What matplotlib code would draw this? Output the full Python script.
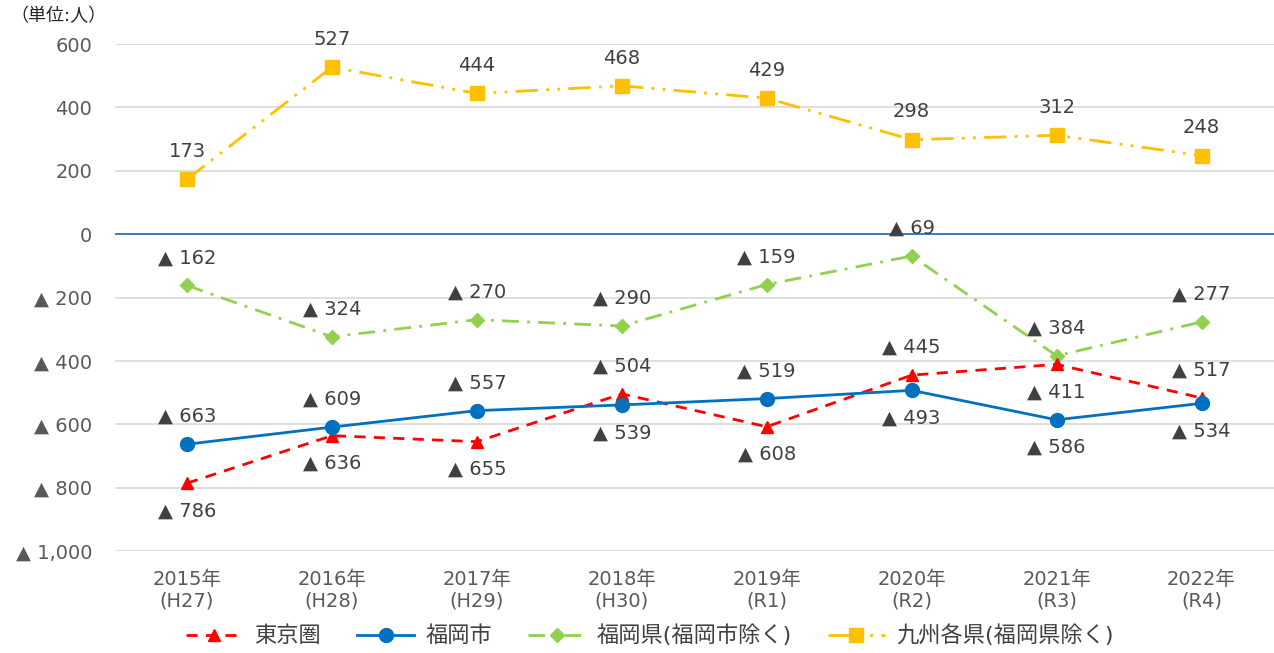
import numpy as np
import matplotlib
matplotlib.use("Agg")
import matplotlib.pyplot as plt

# DejaVu first for the wide digits, CJK falls back to Noto
plt.rcParams['font.family'] = ['DejaVu Sans', 'Noto Sans CJK JP']

years = ["2015年\n(H27)", "2016年\n(H28)", "2017年\n(H29)", "2018年\n(H30)",
         "2019年\n(R1)", "2020年\n(R2)", "2021年\n(R3)", "2022年\n(R4)"]

tokyo = [-786, -636, -655, -504, -608, -445, -411, -517]
fukuoka_city = [-663, -609, -557, -539, -519, -493, -586, -534]
fukuoka_pref = [-162, -324, -270, -290, -159, -69, -384, -277]
kyushu = [173, 527, 444, 468, 429, 298, 312, 248]

# label above (+1) or below (-1) each point
tokyo_pos = [-1, -1, -1, 1, -1, 1, -1, 1]
city_pos = [1, 1, 1, -1, 1, -1, -1, -1]

yticks = [600, 400, 200, 0, -200, -400, -600, -800, -1000]


def fmt(v):
    if v < 0:
        return "▲ {:,}".format(-v)
    return "{:,}".format(v)


fig = plt.figure(figsize=(12.74, 6.53), dpi=100)
ax = fig.add_axes([0.0899, 0.1562, 0.9101, 0.7764])
x = np.arange(len(years))

ax.plot(x, tokyo, color="#FF0000", linestyle=(0, (4, 3)), linewidth=2,
        marker="^", markersize=9, label="東京圏", zorder=4)
ax.plot(x, fukuoka_city, color="#0070C0", linewidth=2,
        marker="o", markersize=10, label="福岡市", zorder=5)
ax.plot(x, fukuoka_pref, color="#92D050", linestyle=(0, (6, 3, 1, 3)), linewidth=2,
        marker="D", markersize=7, label="福岡県(福岡市除く)", zorder=3)
ax.plot(x, kyushu, color="#FFC000", linestyle=(0, (8, 3, 1, 3, 1, 3)), linewidth=2,
        marker="s", markersize=10, label="九州各県(福岡県除く)", zorder=3)

lab = dict(ha="center", va="center", fontsize=14, color="#404040",
           textcoords="offset points", zorder=6)
for i in x:
    ax.annotate(fmt(kyushu[i]), (i, kyushu[i]), xytext=(0, 20), **lab)
    ax.annotate(fmt(fukuoka_pref[i]), (i, fukuoka_pref[i]), xytext=(0, 20), **lab)
    ax.annotate(fmt(tokyo[i]), (i, tokyo[i]), xytext=(0, 20 * tokyo_pos[i]), **lab)
    ax.annotate(fmt(fukuoka_city[i]), (i, fukuoka_city[i]), xytext=(0, 20 * city_pos[i]), **lab)

ax.set_xlim(-0.5, len(years) - 0.5)
ax.set_ylim(-1000, 600)
ax.set_yticks(yticks)
ax.set_yticklabels([fmt(v) for v in yticks])
ax.set_xticks(x)
ax.set_xticklabels(years, linespacing=1.15)
ax.tick_params(axis="both", length=0, labelsize=14, colors="#595959")
ax.tick_params(axis="x", pad=14)
ax.tick_params(axis="y", pad=16)

ax.grid(axis="y", color="#D9D9D9", linewidth=1.2)
ax.axhline(0, color="#2E75B6", linewidth=1.3, zorder=2)
for s in ax.spines.values():
    s.set_visible(False)
ax.set_axisbelow(True)

fig.text(0.008, 0.975, "（単位:人）", fontsize=13, color="#262626", va="center")

fig.legend(loc="center", bbox_to_anchor=(0.51, 0.027), ncol=4, frameon=False,
           fontsize=16, handlelength=2.6, handletextpad=0.5, columnspacing=1.6,
           labelcolor="#404040")

fig.savefig("out.png", dpi=100)
